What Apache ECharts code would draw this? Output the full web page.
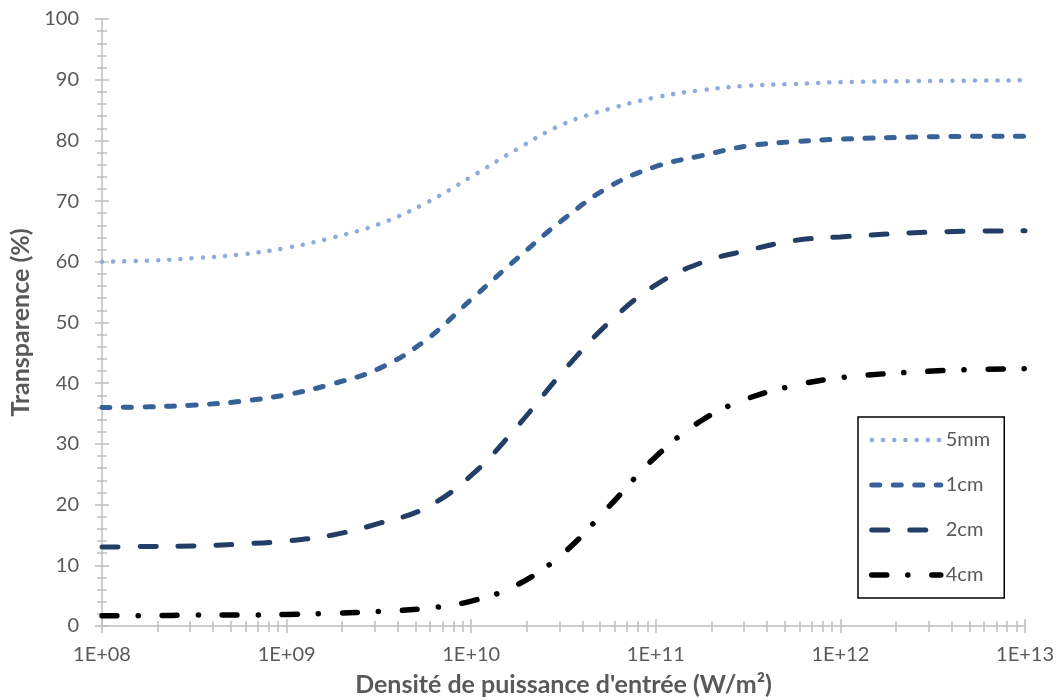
<!DOCTYPE html>
<html>
<head>
<meta charset="utf-8">
<script src="https://cdn.jsdelivr.net/npm/echarts@6/dist/echarts.min.js"></script>
<style>html,body{margin:0;padding:0;background:#fff}#c{width:1057px;height:700px}</style>
</head>
<body>
<div id="c"></div>
<script>
// Input power density (W/m²), quarter-decade samples
const xValues = [1e8, 1.78e8, 3.16e8, 5.62e8, 1e9, 1.78e9, 3.16e9, 5.62e9, 1e10, 1.78e10, 3.16e10, 5.62e10, 1e11, 1.78e11, 3.16e11, 5.62e11, 1e12, 3.16e12, 1e13];
const seriesNames = ['5mm', '1cm', '2cm', '4cm'];
const t5mm = [60.0, 60.2, 60.6, 61.2, 62.3, 64.0, 66.2, 69.6, 74.0, 78.6, 82.7, 85.2, 87.1, 88.3, 89.0, 89.3, 89.6, 89.8, 89.9];
const t1cm = [36.0, 36.1, 36.4, 37.0, 38.1, 39.9, 42.4, 47.0, 53.8, 60.6, 67.0, 72.4, 75.7, 77.5, 79.1, 79.8, 80.2, 80.6, 80.7];
const t2cm = [13.0, 13.1, 13.2, 13.5, 14.0, 15.0, 16.9, 19.4, 24.8, 32.9, 42.0, 50.1, 56.2, 59.9, 61.9, 63.5, 64.1, 64.9, 65.1];
const t4cm = [1.7, 1.7, 1.8, 1.8, 1.9, 2.1, 2.4, 2.9, 4.1, 6.8, 12.0, 19.8, 27.9, 33.9, 37.5, 39.6, 40.9, 42.0, 42.4];
const yTicks = {min: 0, max: 100, interval: 10};
const xDecades = [8, 9, 10, 11, 12, 13];

const FONT = 'Lato';
const AX = '#BFBFBF';
const TXT = '#595959';

const styles = [
  {color: '#8FAADC', width: 4.5, type: [0.1, 11.1], cap: 'round'},
  {color: '#376197', width: 5, type: [8, 13.5], cap: 'round'},
  {color: '#223E66', width: 5, type: [16, 22], cap: 'round'},
  {color: '#000000', width: 5.5, type: [15, 21, 0.1, 24], cap: 'round'}
];
const seriesData = [t5mm, t1cm, t2cm, t4cm];

function pairs(ys) { return xValues.map((x, i) => [x, ys[i]]); }

// minor tick positions (log space) for 2..9 within each decade
const minorLog = [];
for (let d = xDecades[0]; d < xDecades[xDecades.length - 1]; d++) {
  for (let k = 2; k <= 9; k++) minorLog.push(d + Math.log10(k));
}

const chart = echarts.init(document.getElementById('c'), null, {renderer: 'canvas'});
const grid = {left: 102, right: 32, top: 19, bottom: 74, containLabel: false, outerBoundsMode: 'none'};

const tickAxisBase = {
  type: 'value', min: xDecades[0], max: xDecades[xDecades.length - 1], position: 'bottom', offset: 0,
  axisLine: {show: false}, axisLabel: {show: false}, splitLine: {show: false}
};

chart.setOption({
  animation: false,
  backgroundColor: '#fff',
  grid: grid,
  legend: {
    orient: 'vertical', left: 858, top: 417,
    padding: [13, 14, 13, 11],
    borderColor: '#000', borderWidth: 1.5, backgroundColor: '#fff',
    itemWidth: 69, itemHeight: 20, itemGap: 25,
    itemStyle: {color: 'rgba(0,0,0,0)', borderColor: 'rgba(0,0,0,0)', borderWidth: 0, opacity: 0},
    textStyle: {fontFamily: FONT, fontSize: 20, color: TXT},
    data: seriesNames.map((n, i) => ({name: n, lineStyle: Object.assign({}, styles[i])}))
  },
  xAxis: [
    {
      type: 'log', logBase: 10, min: 1e8, max: 1e13,
      name: "Densité de puissance d'entrée (W/m²)", nameLocation: 'middle', nameGap: 46,
      nameTextStyle: {fontFamily: FONT, fontSize: 25, fontWeight: 'bold', color: TXT},
      axisLine: {show: true, lineStyle: {color: AX, width: 1.5}},
      axisTick: {show: true, length: 7, lineStyle: {color: AX, width: 1.5}},
      axisLabel: {fontFamily: FONT, fontSize: 20, color: TXT, margin: 19,
        formatter: v => '1E+' + String(Math.round(Math.log10(v))).padStart(2, '0')},
      splitLine: {show: false}
    },
    Object.assign({}, tickAxisBase, {axisTick: {show: true, inside: true, length: 7, customValues: xDecades, lineStyle: {color: AX, width: 1.5}}}),
    Object.assign({}, tickAxisBase, {axisTick: {show: true, inside: false, length: 6, customValues: minorLog, lineStyle: {color: AX, width: 1.5}}}),
    Object.assign({}, tickAxisBase, {axisTick: {show: true, inside: true, length: 5, customValues: minorLog, lineStyle: {color: AX, width: 1.5}}})
  ],
  yAxis: [
    {
      type: 'value', min: yTicks.min, max: yTicks.max, interval: yTicks.interval,
      name: 'Transparence (%)', nameLocation: 'middle', nameGap: 66, nameRotate: 90,
      nameTextStyle: {fontFamily: FONT, fontSize: 25, fontWeight: 'bold', color: TXT},
      axisLine: {show: true, lineStyle: {color: AX, width: 1.5}},
      axisTick: {show: true, length: 7, lineStyle: {color: AX, width: 1.5}},
      minorTick: {show: true, splitNumber: 5, length: 5, lineStyle: {color: AX, width: 1.5}},
      axisLabel: {fontFamily: FONT, fontSize: 20, color: TXT, margin: 23},
      splitLine: {show: false}, minorSplitLine: {show: false}
    },
    {
      type: 'value', min: yTicks.min, max: yTicks.max, interval: yTicks.interval, position: 'left', offset: 0,
      axisLine: {show: false}, axisLabel: {show: false}, splitLine: {show: false},
      axisTick: {show: true, inside: true, length: 7, lineStyle: {color: AX, width: 1.5}},
      minorTick: {show: true, splitNumber: 5, length: 5, lineStyle: {color: AX, width: 1.5}}
    }
  ],
  series: seriesNames.map((n, i) => ({
    name: n, type: 'line', smooth: 0.4, showSymbol: false, symbol: 'none',
    data: pairs(seriesData[i]),
    lineStyle: Object.assign({}, styles[i]),
    itemStyle: {color: styles[i].color}
  }))
});
</script>
</body>
</html>
